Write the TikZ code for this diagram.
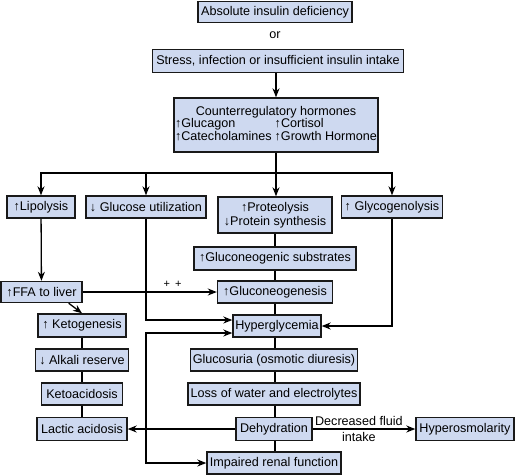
\documentclass[tikz,border=0pt]{standalone}
\usepackage{fontspec}
\setmainfont{Liberation Sans}
\usetikzlibrary{arrows.meta,calc}
\definecolor{boxblue}{RGB}{206,217,240}
\tikzset{
  box/.style={draw=black!90, fill=boxblue, line width=1.4pt, inner sep=1pt,
    minimum height=22pt, align=center},
  arr/.style={-{Stealth[length=9pt,width=7pt]}},
  twoarr/.style={{Stealth[length=9pt,width=7pt]}-{Stealth[length=9pt,width=7pt]}},
}
\begin{document}
\begin{tikzpicture}[x=1pt,y=-1pt,line width=1.3pt,font=\fontsize{12.6}{14}\selectfont]
  \useasboundingbox (0,0) rectangle (515,475);
  % top: causes
  \node[box, minimum width=154pt, minimum height=21pt] (absolute) at (275,12) {Absolute insulin deficiency};
  \node (or) at (275,35) {or};
  \node[box, minimum width=251pt, minimum height=23pt] (stress) at (278,61) {Stress, infection or insufficient insulin intake};
  \node[box, minimum width=198pt, minimum height=54pt] (counter) at (276,125) {%
    \begin{tabular}{@{}l@{\hspace{3pt}}l@{}}
      \multicolumn{2}{c}{Counterregulatory hormones}\\[-1.5pt]
      ↑Glucagon & ↑Cortisol\\[-1.5pt]
      ↑Catecholamines & ↑Growth Hormone
    \end{tabular}};
  \draw[arr] (counter.north |- stress.south) -- (counter.north);
  % second row
  \node[box, minimum width=68pt] (lipo) at (41,207) {↑Lipolysis};
  \node[box, minimum width=120pt] (glucuse) at (146,207) {↓ Glucose utilization};
  \node[box, minimum width=114pt, minimum height=36pt] (prot) at (275,215) {↑Proteolysis\\↓Protein synthesis};
  \node[box, minimum width=101pt] (glyco) at (392,207) {↑ Glycogenolysis};
  \coordinate (split) at (276,173);
  \draw (counter.south) -- (split);
  \draw[arr] (split) -| (lipo.north);
  \draw[arr] (split) -| (glucuse.north);
  \draw[arr] (split) -| (glyco.north);
  \draw[arr] (split) -- (split |- prot.north);
  % left column
  \node[box, minimum width=81pt, minimum height=21pt] (ffa) at (41.5,292) {↑FFA to liver};
  \node[box, minimum width=88pt, minimum height=23pt] (keto) at (82,325.5) {↑ Ketogenesis};
  \node[box, minimum width=93pt] (alkali) at (82,360) {↓ Alkali reserve};
  \node[box, minimum width=81pt] (ketoacid) at (82,394) {Ketoacidosis};
  \node[box, minimum width=90pt, minimum height=23pt] (lactic) at (82,429) {Lactic acidosis};
  \draw[arr] (lipo) -- (ffa);
  \draw[arr] ($(ffa.south west)!0.83!(ffa.south east)$) -- (keto.north);
  \draw (keto) -- (alkali) (alkali) -- (ketoacid) (ketoacid) -- (lactic);
  % centre column
  \node[box, minimum width=162pt, minimum height=23pt] (substr) at (275,258.5) {↑Gluconeogenic substrates};
  \node[box, minimum width=115pt] (gneo) at (275,292) {↑Gluconeogenesis};
  \node[box, minimum width=88pt] (hyper) at (277,326) {Hyperglycemia};
  \node[box, minimum width=167pt] (glucosuria) at (274,360) {Glucosuria (osmotic diuresis)};
  \node[box, minimum width=172pt] (loss) at (274,394) {Loss of water and electrolytes};
  \node[box, minimum width=76pt, minimum height=23pt] (dehyd) at (274,429) {Dehydration};
  \node[box, minimum width=134pt] (renal) at (274,463) {Impaired renal function};
  \draw (prot.south) -- (prot.south |- substr.north);
  \draw (prot.south |- substr.south) -- (prot.south |- gneo.north);
  \draw (prot.south |- gneo.south) -- (prot.south |- hyper.north);
  \draw (prot.south |- hyper.south) -- (prot.south |- glucosuria.north);
  \draw (prot.south |- glucosuria.south) -- (prot.south |- loss.north);
  \draw (prot.south |- loss.south) -- (prot.south |- dehyd.north);
  \draw (prot.south |- dehyd.south) -- (prot.south |- renal.north);
  % cross links
  \draw[arr] (ffa.east) -- (gneo.west) node[pos=0.67, above=1pt, font=\fontsize{11}{12}\selectfont] (plus) {+\hspace{5pt}+};
  \draw[arr] (glucuse.south) |- ($(hyper.west)+(0,-6)$);
  \draw[twoarr] ($(hyper.west)+(0,7)$) -| (glucuse.south |- renal.west) -- (renal.west);
  \draw[arr] (glyco.south) |- (hyper.east);
  % dehydration
  \node[box, minimum width=98pt, minimum height=23pt] (hyperosm) at (465,429) {Hyperosmolarity};
  \draw[arr] (dehyd.west) -- (lactic.east);
  \draw[arr] (dehyd.east) -- (hyperosm.west)
    node[pos=0.45, align=center] (fluid) {Decreased fluid\\[2pt]intake};
\end{tikzpicture}
\end{document}
